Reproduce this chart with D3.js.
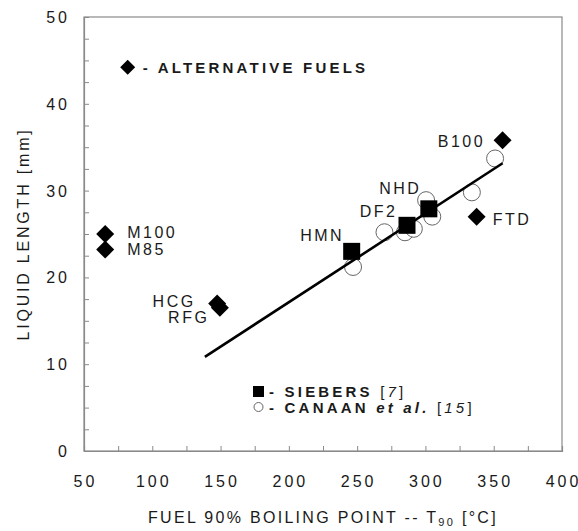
<!DOCTYPE html>
<html><head><meta charset="utf-8">
<script src="https://cdn.jsdelivr.net/npm/d3@7"></script>
<style>
body{margin:0;background:#fff}
svg{display:block}
text{font-family:"Liberation Sans",Arial,Helvetica,sans-serif;fill:#1a1a1a}
</style>
</head><body>
<svg id="c" width="578" height="531"></svg>
<script>
// ---- data ----
const altFuels = ["M100", "M85", "HCG", "RFG", "FTD", "B100"];
const altT90   = [65.5, 65.5, 147.5, 149.5, 337.5, 356.5];
const altLL    = [25.0, 23.2, 17.0, 16.5, 27.0, 35.8];

const siebersFuels = ["HMN", "DF2", "NHD"];
const siebersT90   = [246, 286.5, 302.5];
const siebersLL    = [23.0, 26.0, 27.9];

const canaanT90 = [247, 270, 285, 291.5, 300.5, 305, 334, 351];
const canaanLL  = [21.2, 25.2, 25.2, 25.6, 28.9, 27.0, 29.8, 33.7];

const fitT90 = [138.5, 356.5];
const fitLL  = [10.85, 33.15];

const xTicks = [50, 100, 150, 200, 250, 300, 350, 400];
const yTicks = [0, 10, 20, 30, 40, 50];
const xMinor = d3.range(50, 401, 25);
const yMinor = d3.range(0, 50.1, 2.5);

const legendAlt = {t90: 82, ll: 44.2, label: "- ALTERNATIVE FUELS"};

// ---- layout ----
const L = 84, R = 562, T = 17, B = 451;
const svg = d3.select("#c");
const x = d3.scaleLinear().domain([50, 400]).range([L, R]);
const y = d3.scaleLinear().domain([0, 50]).range([B, T]);

const axisColor = "#8a8a8a";

// frame
svg.append("rect").attr("x", L).attr("y", T).attr("width", R - L).attr("height", B - T)
  .attr("fill", "none").attr("stroke", axisColor).attr("stroke-width", 1.2);

// axes with inward ticks
const gx = svg.append("g").attr("transform", `translate(0,${B})`)
  .call(d3.axisBottom(x).tickValues(xMinor).tickSize(-5).tickFormat(""));
const gy = svg.append("g").attr("transform", `translate(${L},0)`)
  .call(d3.axisLeft(y).tickValues(yMinor).tickSize(-5).tickFormat(""));
[gx, gy].forEach(g => {
  g.select(".domain").attr("stroke", axisColor).attr("stroke-width", 1.2);
  g.selectAll(".tick line").attr("stroke", axisColor).attr("stroke-width", 1);
});

// tick labels: spaced digits, no trailing spacing after the last digit
const tickFont = 16, tickLS = 3;
function spaced(sel, s, ls) {
  const str = String(s);
  sel.append("tspan").attr("letter-spacing", ls).text(str.slice(0, -1));
  sel.append("tspan").attr("letter-spacing", 0).text(str.slice(-1));
}
svg.append("g").selectAll("text").data(xTicks).join("text")
  .attr("x", d => x(d)).attr("y", 487)
  .attr("text-anchor", "middle").attr("font-size", tickFont)
  .each(function(d) { spaced(d3.select(this), d, tickLS); });
svg.append("g").selectAll("text").data(yTicks).join("text")
  .attr("x", 67).attr("y", d => y(d) + 6)
  .attr("text-anchor", "end").attr("font-size", tickFont)
  .each(function(d) { spaced(d3.select(this), d, tickLS); });

// axis titles
svg.append("text")
  .attr("transform", `translate(29,${(T + B) / 2}) rotate(-90)`)
  .attr("text-anchor", "middle").attr("font-size", 16).attr("letter-spacing", 2.8)
  .text("LIQUID LENGTH [mm]");
const xt = svg.append("text").attr("x", (L + R) / 2).attr("y", 523)
  .attr("text-anchor", "middle").attr("font-size", 16).attr("letter-spacing", 2.3);
xt.append("tspan").text("FUEL 90% BOILING POINT -- T");
xt.append("tspan").attr("font-size", 11).attr("dy", 3).text("90");
xt.append("tspan").attr("dy", -3).text(" [°C]");

// markers
const diamond = (cx, cy, h) => `M${cx},${cy - h}L${cx + h},${cy}L${cx},${cy + h}L${cx - h},${cy}Z`;

// Canaan circles
svg.append("g").selectAll("circle").data(canaanT90).join("circle")
  .attr("cx", d => x(d)).attr("cy", (d, i) => y(canaanLL[i])).attr("r", 8.5)
  .attr("fill", "#fff").attr("stroke", "#666").attr("stroke-width", 1);

// fit line
svg.append("path")
  .attr("d", d3.line().x(d => x(d[0])).y(d => y(d[1]))(fitT90.map((t, i) => [t, fitLL[i]])))
  .attr("stroke", "#000").attr("stroke-width", 2.6).attr("fill", "none");

// Siebers squares
const sq = 17;
svg.append("g").selectAll("rect").data(siebersT90).join("rect")
  .attr("x", d => x(d) - sq / 2).attr("y", (d, i) => y(siebersLL[i]) - sq / 2)
  .attr("width", sq).attr("height", sq).attr("fill", "#000");

// alternative fuel diamonds
svg.append("g").selectAll("path").data(altT90).join("path")
  .attr("d", (d, i) => diamond(x(d), y(altLL[i]), 9)).attr("fill", "#000");

// point labels (offsets in px)
const lblFont = 16, lblLS = 2.5;
const altOff = {
  "M100": [22, 4, "start"], "M85": [22, 5, "start"],
  "HCG": [-24, 4, "end"], "RFG": [-13, 15, "end"],
  "FTD": [16, 8, "start"], "B100": [-20, 7, "end"]
};
const sieOff = {"HMN": [-10, -10, "end"], "DF2": [-12, -8, "end"], "NHD": [-10, -15, "end"]};
function addLabels(names, xs, ys, off) {
  svg.append("g").selectAll("text").data(names).join("text")
    .attr("x", (d, i) => x(xs[i]) + off[d][0] + (off[d][2] === "end" ? lblLS : 0))
    .attr("y", (d, i) => y(ys[i]) + off[d][1])
    .attr("text-anchor", (d) => off[d][2])
    .attr("font-size", lblFont).attr("letter-spacing", lblLS).text(d => d);
}
addLabels(altFuels, altT90, altLL, altOff);
addLabels(siebersFuels, siebersT90, siebersLL, sieOff);

// legends
const legFont = 15, legLS = 3.2;
svg.append("path").attr("d", diamond(x(legendAlt.t90), y(legendAlt.ll), 7.5)).attr("fill", "#000");
svg.append("text").attr("x", x(legendAlt.t90) + 15).attr("y", y(legendAlt.ll) + 6)
  .attr("font-size", legFont).attr("font-weight", "bold").attr("letter-spacing", legLS)
  .text(legendAlt.label);

svg.append("rect").attr("x", 253).attr("y", 386).attr("width", 11).attr("height", 11).attr("fill", "#000");
const t1 = svg.append("text").attr("x", 269).attr("y", 397)
  .attr("font-size", legFont).attr("letter-spacing", legLS);
t1.append("tspan").attr("font-weight", "bold").text("- SIEBERS ");
t1.append("tspan").text("[");
t1.append("tspan").attr("font-style", "italic").text("7");
t1.append("tspan").text("]");

svg.append("circle").attr("cx", 258.5).attr("cy", 407).attr("r", 4.5)
  .attr("fill", "#fff").attr("stroke", "#666").attr("stroke-width", 1);
const t2 = svg.append("text").attr("x", 269).attr("y", 413)
  .attr("font-size", legFont).attr("letter-spacing", legLS);
t2.append("tspan").attr("font-weight", "bold").text("- CANAAN ");
t2.append("tspan").attr("font-weight", "bold").attr("font-style", "italic").text("et al.");
t2.append("tspan").text(" [");
t2.append("tspan").attr("font-style", "italic").text("15");
t2.append("tspan").text("]");
</script>
</body></html>
